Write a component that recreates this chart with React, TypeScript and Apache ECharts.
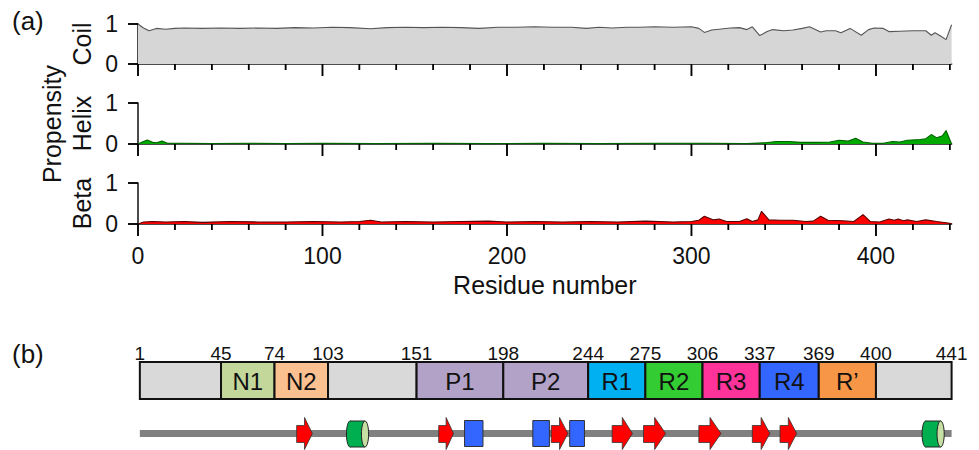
import React, { useEffect, useRef } from "react";
import * as echarts from "echarts";

// ---- data (residue, propensity) ----
const coilPoints: number[][] = [
  [0, 1.0], [3, 0.9], [6, 0.83], [10, 0.89], [15, 0.87], [20, 0.89], [25, 0.9], [35, 0.89],
  [45, 0.9], [55, 0.89], [65, 0.9], [75, 0.89], [85, 0.91], [95, 0.9], [105, 0.92], [115, 0.91],
  [126, 0.88], [135, 0.91], [145, 0.92], [155, 0.91], [165, 0.92], [175, 0.91], [185, 0.89],
  [195, 0.92], [205, 0.92], [215, 0.93], [225, 0.92], [235, 0.92], [243, 0.89], [250, 0.92],
  [257, 0.9], [265, 0.92], [272, 0.92], [280, 0.93], [290, 0.92], [300, 0.93], [304, 0.89],
  [307, 0.79], [311, 0.85], [315, 0.87], [321, 0.9], [326, 0.91], [330, 0.86], [333, 0.93],
  [337, 0.71], [341, 0.81], [344, 0.86], [350, 0.83], [355, 0.85], [360, 0.89], [364, 0.93],
  [370, 0.8], [373, 0.83], [378, 0.83], [381, 0.78], [386, 0.89], [392, 0.72], [396, 0.86],
  [399, 0.9], [404, 0.89], [407, 0.81], [413, 0.82], [420, 0.83], [427, 0.83], [430, 0.72],
  [432, 0.78], [435, 0.7], [438, 0.61], [441, 0.98],
];
const helixPoints: number[][] = [
  [0, 0], [2, 0.04], [5, 0.1], [8, 0.04], [10, 0.03], [13, 0.07], [16, 0.02], [25, 0.02],
  [40, 0.01], [60, 0.02], [80, 0.01], [100, 0.02], [130, 0.01], [160, 0.02], [190, 0.01],
  [220, 0.02], [250, 0.01], [280, 0.02], [310, 0.02], [330, 0.01], [340, 0.03], [346, 0.06],
  [353, 0.06], [359, 0.04], [368, 0.04], [375, 0.05], [380, 0.09], [385, 0.07], [389, 0.14],
  [393, 0.05], [398, 0.02], [404, 0.02], [409, 0.06], [413, 0.05], [417, 0.09], [424, 0.11],
  [427, 0.13], [430, 0.23], [433, 0.15], [436, 0.2], [438, 0.33], [441, 0],
];
const betaPoints: number[][] = [
  [0, 0], [3, 0.05], [8, 0.06], [15, 0.05], [25, 0.06], [35, 0.04], [50, 0.06], [65, 0.05],
  [80, 0.05], [95, 0.06], [110, 0.05], [120, 0.06], [126, 0.09], [132, 0.05], [145, 0.06],
  [160, 0.05], [175, 0.06], [190, 0.07], [200, 0.05], [215, 0.06], [230, 0.05], [245, 0.06],
  [260, 0.05], [275, 0.07], [290, 0.05], [300, 0.06], [304, 0.09], [307, 0.19], [312, 0.1],
  [315, 0.12], [319, 0.06], [326, 0.06], [330, 0.13], [333, 0.06], [336, 0.1], [338, 0.31],
  [342, 0.1], [348, 0.09], [355, 0.09], [362, 0.06], [366, 0.07], [370, 0.19], [374, 0.09],
  [382, 0.08], [388, 0.06], [393, 0.23], [397, 0.06], [402, 0.05], [407, 0.12], [410, 0.09],
  [412, 0.12], [415, 0.08], [417, 0.1], [422, 0.06], [427, 0.1], [433, 0.06], [440, 0.02], [441, 0],
];

const panelNames = ["Coil", "Helix", "Beta"];
const majorTicks = [0, 100, 200, 300, 400];
const minorTicks = [20, 40, 60, 80, 120, 140, 160, 180, 220, 240, 260, 280, 320, 340, 360, 380, 420, 440];
const yTicks = [0, 1];

// ---- domain map ----
const domainBounds = [1, 45, 74, 103, 151, 198, 244, 275, 306, 337, 369, 400, 441];
const domainNames = ["", "N1", "N2", "", "P1", "P2", "R1", "R2", "R3", "R4", "R\u2019", ""];
const domainColors = [
  "#d9d9d9", "#c4d79b", "#fac090", "#d9d9d9", "#b3a2c7", "#b3a2c7",
  "#00b0f0", "#33cc33", "#ff3399", "#3366ff", "#f79646", "#d9d9d9",
];

// ---- secondary structure elements (start, end residue) ----
const backbone = [1, 441];
const strands = [[86, 94.5], [163, 171], [224, 233], [257, 268], [274, 286], [304, 316], [333, 342.5], [348, 357]];
const helices = [[113, 125], [425, 437]];
const boxes = [[177, 187], [214, 223], [234, 242]];

const FONT = '"Liberation Sans", Arial, Helvetica, sans-serif';
const XMAX = 441;
const INK = "#111";

export default function App() {
  const ref = useRef<HTMLDivElement>(null);
  useEffect(() => {
    if (!ref.current) return;
    const chart = echarts.init(ref.current, undefined, { renderer: "svg" });
    const left = 138;
    const right = 979 - 951.6;
    const panelGeo = [
      { top: 24, height: 40 },
      { top: 103, height: 41 },
      { top: 183, height: 41 },
    ];
    const grids: any[] = panelGeo.map((g) => ({ left, right, top: g.top, height: g.height }));
    grids.push({ left, right, top: 362, height: 37 });
    grids.push({ left, right, top: 417, height: 34 });

    const xAxes: any[] = [];
    const yAxes: any[] = [];
    panelGeo.forEach((_, i) => {
      const isLast = i === 2;
      xAxes.push({
        type: "value", gridIndex: i, min: 0, max: XMAX, interval: 100,
        axisLine: { show: true, lineStyle: { color: INK, width: 1.5 } },
        axisTick: { show: false },
        axisLabel: {
          show: isLast, margin: 20, fontSize: 23, color: INK, fontFamily: FONT,
          formatter: (v: number) => (majorTicks.indexOf(v) >= 0 ? String(v) : ""),
        },
        splitLine: { show: false },
        name: isLast ? "Residue number" : "",
        nameLocation: "middle", nameGap: 48,
        nameTextStyle: { fontSize: 25, color: INK, fontFamily: FONT },
      });
      yAxes.push({
        type: "value", gridIndex: i, min: 0, max: 1, interval: 1,
        axisLine: { show: true, lineStyle: { color: INK, width: 1.5 } },
        axisTick: { show: false },
        axisLabel: { margin: 20, fontSize: 23, color: INK, fontFamily: FONT },
        splitLine: { show: false },
        name: panelNames[i], nameLocation: "middle", nameGap: 44, nameRotate: 90,
        nameTextStyle: { fontSize: 25, color: INK, fontFamily: FONT },
      });
    });
    xAxes.push({ type: "value", gridIndex: 3, min: 0, max: XMAX, show: false });
    xAxes.push({ type: "value", gridIndex: 4, min: 0, max: XMAX, show: false });
    yAxes.push({ type: "value", gridIndex: 3, min: 0, max: 1, show: false });
    yAxes.push({ type: "value", gridIndex: 4, min: 0, max: 1, show: false });
    const domX = 3, ssX = 4, domY = 3, ssY = 4;

    const areaSeries = (data: number[][], idx: number, fill: string, line: string) => ({
      type: "line", xAxisIndex: idx, yAxisIndex: idx, data,
      showSymbol: false, symbol: "none",
      lineStyle: { color: line, width: 1.1 },
      areaStyle: { color: fill, opacity: 1 },
    });

    // tick marks, placed through each panel's scales (custom rects)
    const tickData: any[] = [
      ...majorTicks.map((v) => [v, 0, 0]),
      ...minorTicks.map((v) => [v, 0, 1]),
      ...yTicks.map((v) => [0, v, 2]),
    ];
    const tickSeries = (idx: number) => ({
      type: "custom", xAxisIndex: idx, yAxisIndex: idx, data: tickData.map((d) => d.slice()),
      clip: false, z: 10,
      encode: { x: 0, y: 1 },
      renderItem: (_p: any, api: any) => {
        const kind = api.value(2);
        const p = api.coord([api.value(0), api.value(1)]);
        if (kind === 2) {
          return { type: "rect", shape: { x: p[0] - 10, y: p[1] - 0.75, width: 10, height: 1.5 }, style: { fill: "#000" } };
        }
        return {
          type: "rect",
          shape: { x: p[0] - 0.75, y: p[1], width: 1.5, height: kind === 0 ? 12 : 6 },
          style: { fill: "#000" },
        };
      },
    });
    // the same ticks as hanging rect symbols (second mechanism)
    const tickScatter = (idx: number, values: number[], axis: "x" | "y", len: number) => ({
      type: "scatter", xAxisIndex: idx, yAxisIndex: idx, silent: true, clip: false, z: 11,
      data: values.map((v) => (axis === "x" ? [v, 0] : [0, v])),
      symbol: "rect",
      symbolSize: axis === "x" ? [1.5, len] : [len, 1.5],
      symbolOffset: axis === "x" ? [0, len / 2] : [-len / 2, 0],
      itemStyle: { color: "#000", opacity: 1 },
      emphasis: { disabled: true },
    });

    const domainData = domainBounds.slice(0, -1).map((b, i) => [b, domainBounds[i + 1], i]);
    const ssData: any[] = [
      ...strands.map((s) => [s[0], s[1], 0]),
      ...boxes.map((s) => [s[0], s[1], 1]),
      ...helices.map((s) => [s[0], s[1], 2]),
    ];

    const tickSeriesAll: any[] = [];
    [0, 1, 2].forEach((i) => {
      tickSeriesAll.push(tickSeries(i));
      tickSeriesAll.push(tickScatter(i, majorTicks, "x", 12));
      tickSeriesAll.push(tickScatter(i, minorTicks, "x", 6));
      tickSeriesAll.push(tickScatter(i, yTicks, "y", 10));
    });

    const option: any = {
      animation: false,
      grid: grids,
      xAxis: xAxes,
      yAxis: yAxes,
      graphic: [
        { type: "text", left: 12, top: 8, style: { text: "(a)", fontSize: 26, fill: INK, fontFamily: FONT } },
        { type: "text", left: 12, top: 341, style: { text: "(b)", fontSize: 26, fill: INK, fontFamily: FONT } },
        {
          type: "text", x: 52, y: 124, rotation: Math.PI / 2,
          style: { text: "Propensity", fontSize: 25, fill: INK, fontFamily: FONT, align: "center", verticalAlign: "middle" },
        },
      ],
      series: [
        areaSeries(coilPoints, 0, "#d6d6d6", "#555555"),
        areaSeries(helixPoints, 1, "#00aa00", "#006400"),
        areaSeries(betaPoints, 2, "#ff0000", "#5a0000"),
        {
          type: "custom", xAxisIndex: domX, yAxisIndex: domY, data: domainData, clip: false,
          encode: { x: [0, 1] },
          renderItem: (_p: any, api: any) => {
            const s = api.value(0), e = api.value(1), i = api.value(2);
            const p0 = api.coord([s, 1]);
            const p1 = api.coord([e, 0]);
            return {
              type: "group",
              children: [
                {
                  type: "rect",
                  shape: { x: p0[0], y: p0[1], width: p1[0] - p0[0], height: p1[1] - p0[1] },
                  style: { fill: domainColors[i], stroke: INK, lineWidth: 2 },
                },
                {
                  type: "text", x: (p0[0] + p1[0]) / 2, y: (p0[1] + p1[1]) / 2 + 1,
                  style: {
                    text: domainNames[i], fontSize: 24, fontFamily: FONT, fill: INK,
                    align: "center", verticalAlign: "middle",
                  },
                },
              ],
            };
          },
        },
        {
          type: "custom", xAxisIndex: domX, yAxisIndex: domY, data: domainBounds.map((b) => [b]), clip: false,
          encode: { x: 0 },
          renderItem: (_p: any, api: any) => {
            const b = api.value(0);
            const p = api.coord([b, 1]);
            return {
              type: "text", x: p[0], y: p[1] - 8.5,
              style: {
                text: String(b), fontSize: 19, fontFamily: FONT, fill: INK,
                align: "center", verticalAlign: "middle",
              },
            };
          },
        },
        {
          type: "line", xAxisIndex: ssX, yAxisIndex: ssY,
          data: [[backbone[0], 0.5], [backbone[1], 0.5]],
          showSymbol: false, symbol: "none",
          lineStyle: { color: "#808080", width: 7, cap: "butt" },
          z: 1,
        },
        {
          type: "custom", xAxisIndex: ssX, yAxisIndex: ssY, data: ssData, clip: false, z: 3,
          encode: { x: [0, 1] },
          renderItem: (_p: any, api: any) => {
            const s = api.value(0), e = api.value(1), t = api.value(2);
            const a = api.coord([s, 0.5]);
            const b = api.coord([e, 0.5]);
            const x0 = a[0], x1 = b[0], cy = a[1] + 0.5;
            if (t === 0) {
              const head = Math.min(11, (x1 - x0) * 0.5);
              const xh = x1 - head;
              return {
                type: "polygon",
                shape: {
                  points: [
                    [x0, cy - 8.5], [xh, cy - 8.5], [xh, cy - 16.5], [x1, cy - 0.5],
                    [xh, cy + 15.5], [xh, cy + 8.5], [x0, cy + 8.5],
                  ],
                },
                style: { fill: "#ff0000", stroke: "#333", lineWidth: 0.8 },
              };
            }
            if (t === 1) {
              return {
                type: "rect",
                shape: { x: x0, y: cy - 13.5, width: x1 - x0, height: 26 },
                style: { fill: "#3366ff", stroke: "#333", lineWidth: 1 },
              };
            }
            const rx = 3.6, ry = 13;
            return {
              type: "group",
              children: [
                { type: "ellipse", shape: { cx: x0 + rx, cy, rx, ry }, style: { fill: "#00b050", stroke: "#222", lineWidth: 1 } },
                { type: "rect", shape: { x: x0 + rx, y: cy - ry, width: x1 - x0 - 2 * rx, height: 2 * ry }, style: { fill: "#00b050" } },
                { type: "rect", shape: { x: x0 + rx, y: cy - ry - 0.5, width: x1 - x0 - 2 * rx, height: 1 }, style: { fill: "#222" } },
                { type: "rect", shape: { x: x0 + rx, y: cy + ry - 0.5, width: x1 - x0 - 2 * rx, height: 1 }, style: { fill: "#222" } },
                { type: "ellipse", shape: { cx: x1 - rx, cy, rx, ry }, style: { fill: "#c6e0a4", stroke: "#222", lineWidth: 1 } },
              ],
            };
          },
        },
        ...tickSeriesAll,
      ],
    };
    chart.setOption(option);
    return () => chart.dispose();
  }, []);
  return (
    <div
      ref={ref}
      style={{ position: "fixed", left: 0, top: 0, width: 979, height: 450, background: "#fff" }}
    />
  );
}
